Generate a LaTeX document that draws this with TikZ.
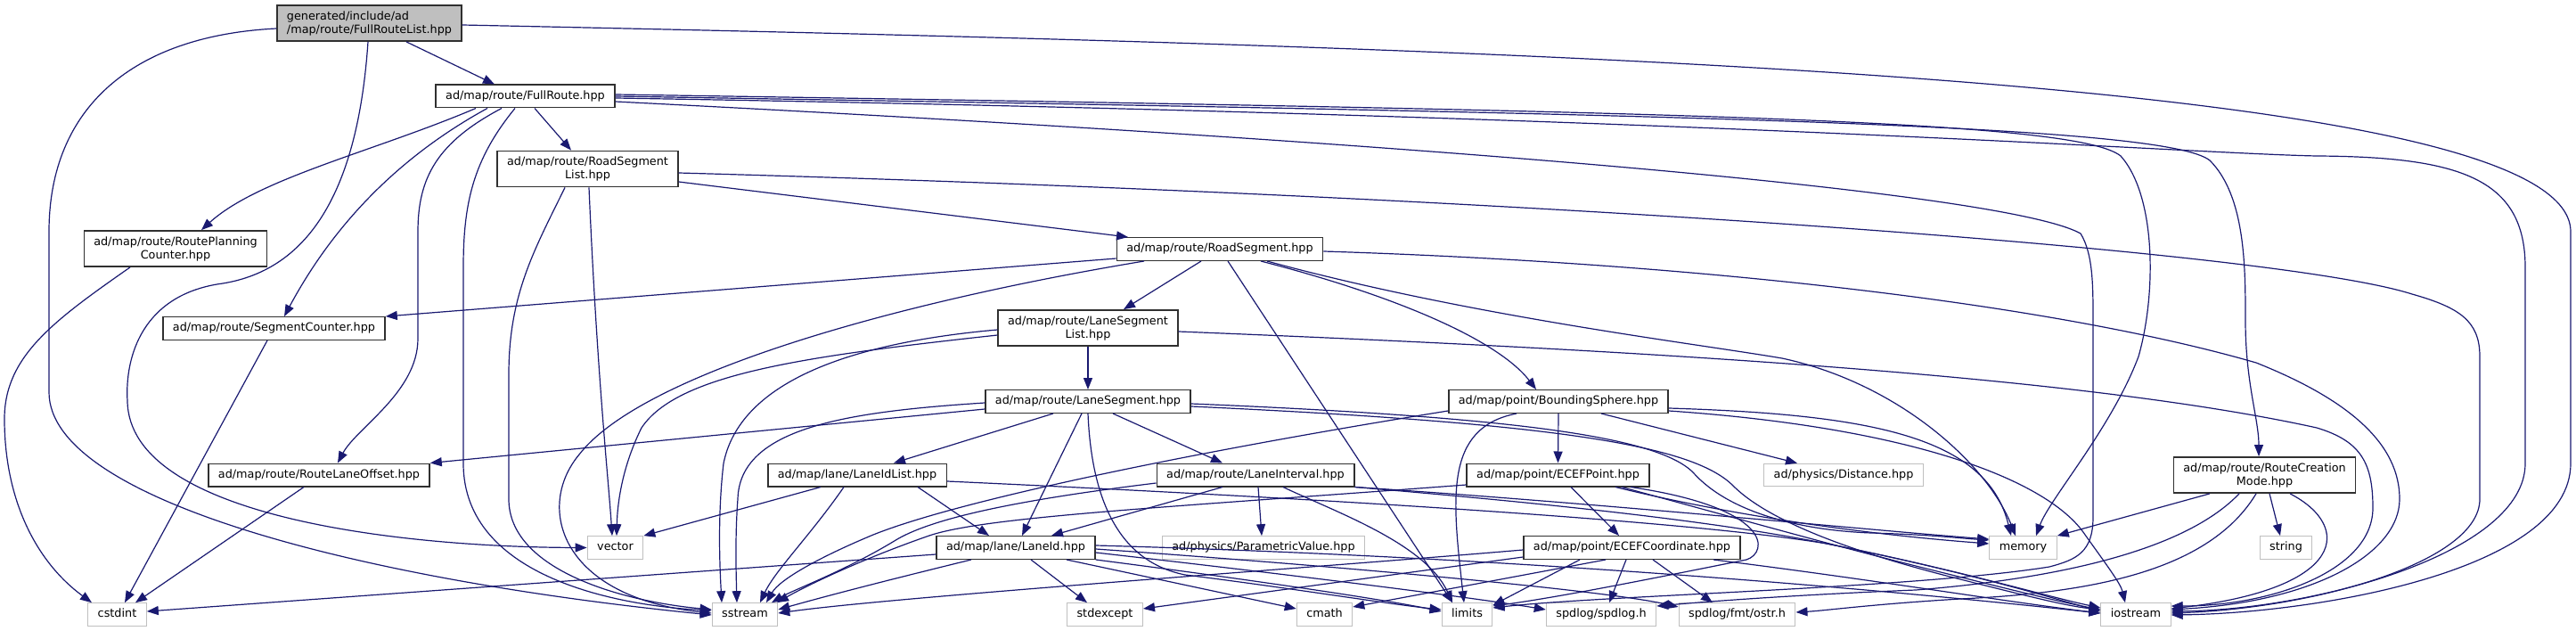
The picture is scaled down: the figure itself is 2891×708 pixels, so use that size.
\documentclass[tikz,border=0pt]{standalone}
\usepackage{fontspec}
\setmainfont{DejaVu Sans}
\usepackage{xcolor}
\usepackage{tikz}
\usetikzlibrary{arrows.meta}
\definecolor{doxEdge}{RGB}{25,25,112}
\definecolor{doxGrey}{RGB}{191,191,191}
\definecolor{doxFrame}{RGB}{48,48,48}

\begin{document}
\begin{tikzpicture}[x=1pt,y=-1pt,
  font=\fontsize{12.8}{15}\selectfont,
  hdr/.style={draw=doxFrame, line width=1.4pt, fill=white, inner xsep=11pt, inner ysep=6.4pt, text height=9.7pt, text depth=3.1pt},
  twoline/.style={draw=doxFrame, line width=1.4pt, fill=white, inner xsep=11pt, inner ysep=6.5pt, align=center},
  syshdr/.style={hdr, draw=doxGrey, line width=1.1pt},
  dep/.style={draw=doxEdge, line width=1.2pt, -{Triangle[length=13pt,width=10pt]}}]
\useasboundingbox (0,0) rectangle (2891,708);

\node[twoline, align=left, fill=doxGrey] (fullList) at (414.5,26) {generated/include/ad\\/map/route/FullRouteList.hpp};
\node[hdr] (fullRoute) at (589.5,108) {ad/map/route/FullRoute.hpp};
\node[twoline] (roadList) at (659.5,189.5) {ad/map/route/RoadSegment\\List.hpp};
\node[twoline] (planCnt) at (197,279) {ad/map/route/RoutePlanning\\Counter.hpp};
\node[hdr] (roadSeg) at (1369,279.5) {ad/map/route/RoadSegment.hpp};
\node[hdr] (segCnt) at (307.5,368.5) {ad/map/route/SegmentCounter.hpp};
\node[twoline] (laneList) at (1221,368) {ad/map/route/LaneSegment\\List.hpp};
\node[hdr] (laneSeg) at (1221,450.5) {ad/map/route/LaneSegment.hpp};
\node[hdr] (bSphere) at (1749,450.5) {ad/map/point/BoundingSphere.hpp};
\node[hdr] (laneOff) at (358,533) {ad/map/route/RouteLaneOffset.hpp};
\node[hdr] (idList) at (962,533) {ad/map/lane/LaneIdList.hpp};
\node[hdr] (laneInt) at (1409,533) {ad/map/route/LaneInterval.hpp};
\node[hdr] (ecefPt) at (1748.5,533) {ad/map/point/ECEFPoint.hpp};
\node[syshdr] (dist) at (2069,533) {ad/physics/Distance.hpp};
\node[twoline] (creMode) at (2541.5,533) {ad/map/route/RouteCreation\\Mode.hpp};
\node[syshdr] (vec) at (690.5,614.5) {vector};
\node[hdr] (laneId) at (1140,614.5) {ad/map/lane/LaneId.hpp};
\node[syshdr] (paramVal) at (1418,614.5) {ad/physics/ParametricValue.hpp};
\node[hdr] (ecefCo) at (1831.5,614.5) {ad/map/point/ECEFCoordinate.hpp};
\node[syshdr] (mem) at (2270.5,614.5) {memory};
\node[syshdr] (str) at (2565.5,614.5) {string};
\node[syshdr] (cstd) at (131.5,689.5) {cstdint};
\node[syshdr] (sstr) at (836,689.5) {sstream};
\node[syshdr] (stdex) at (1240,689.5) {stdexcept};
\node[syshdr] (cmath) at (1486.5,689.5) {cmath};
\node[syshdr] (lim) at (1646.5,689.5) {limits};
\node[syshdr] (spd) at (1797,689.5) {spdlog/spdlog.h};
\node[syshdr] (ostr) at (1949.5,689.5) {spdlog/fmt/ostr.h};
\node[syshdr] (ios) at (2397,689.5) {iostream};

% FullRouteList.hpp
\draw[dep] (456,0 |- fullList.south) -- (555,0 |- fullRoute.north);
\draw[dep] (fullList.west |- 0,32) .. controls (150,40) and (55,120) .. (55,260) -- (55,440) .. controls (55,560) and (400,650) .. (sstr.west |- 0,690);
\draw[dep] (413,0 |- fullList.south) .. controls (400,240) and (330,305) .. (250,318) .. controls (160,330) and (140,400) .. (143,450) .. controls (145,580) and (450,614) .. (vec.west);
\draw[dep] (fullList.east |- 0,28) .. controls (1800,55) and (2885,90) .. (2885,260) -- (2885,520) .. controls (2885,640) and (2600,688) .. (ios.east |- 0,690);

% FullRoute.hpp
\draw[dep] (534,0 |- fullRoute.south) .. controls (420,170) and (290,200) .. (226,0 |- planCnt.north);
\draw[dep] (547,0 |- fullRoute.south) .. controls (440,180) and (370,260) .. (319,0 |- segCnt.north);
\draw[dep] (563,0 |- fullRoute.south) .. controls (490,160) and (469,200) .. (469,260) -- (469,380) .. controls (469,440) and (400,480) .. (379,0 |- laneOff.north);
\draw[dep] (578,0 |- fullRoute.south) .. controls (530,180) and (520,230) .. (520,300) -- (520,520) .. controls (520,650) and (700,680) .. (sstr.west |- 0,685);
\draw[dep] (600,0 |- fullRoute.south) -- (641,0 |- roadList.north);
\draw[dep] (fullRoute.east |- 0,106) .. controls (1900,125) and (2330,135) .. (2380,175) .. controls (2420,220) and (2420,330) .. (2400,400) .. controls (2370,480) and (2300,560) .. (2285,0 |- mem.north);
\draw[dep] (fullRoute.east |- 0,108) .. controls (1900,128) and (2430,140) .. (2480,180) .. controls (2520,220) and (2520,300) .. (2520,360) .. controls (2520,430) and (2535,470) .. (2535,0 |- creMode.north);
\draw[dep] (fullRoute.east |- 0,110) .. controls (1900,130) and (2450,172) .. (2600,175) .. controls (2760,176) and (2834,200) .. (2834,300) -- (2834,520) .. controls (2834,620) and (2600,684) .. (ios.east |- 0,686);
\draw[dep] (fullRoute.east |- 0,114) .. controls (1600,160) and (2250,215) .. (2335,262) .. controls (2349,285) and (2349,320) .. (2349,360) -- (2349,580) .. controls (2349,620) and (2330,628) .. (2300,636) .. controls (2150,660) and (1800,668) .. (lim.east |- 0,682);

% RoadSegmentList.hpp
\draw[dep] (roadList.east |- 0,204) -- (1266,0 |- roadSeg.north);
\draw[dep] (roadList.east |- 0,194) .. controls (1700,220) and (2550,280) .. (2707,330) .. controls (2760,345) and (2783,360) .. (2783,400) -- (2783,560) .. controls (2783,630) and (2600,682) .. (ios.east |- 0,688);
\draw[dep] (634,0 |- roadList.south) .. controls (600,280) and (571,330) .. (571,420) -- (571,560) .. controls (571,640) and (700,675) .. (sstr.west |- 0,684);
\draw[dep] (661,0 |- roadList.south) .. controls (670,420) and (683,540) .. (687,0 |- vec.north);

\draw[dep] (146,0 |- planCnt.south) .. controls (60,360) and (5,400) .. (5,470) .. controls (5,560) and (40,630) .. (103,0 |- cstd.north);
\draw[dep] (300,0 |- segCnt.south) -- (140,0 |- cstd.north);
\draw[dep] (341,0 |- laneOff.south) -- (152,0 |- cstd.north);

% RoadSegment.hpp
\draw[dep] (roadSeg.west |- 0,290) -- (segCnt.north east);
\draw[dep] (1284,0 |- roadSeg.south) .. controls (1000,340) and (720,420) .. (650,510) .. controls (600,570) and (630,670) .. (sstr.west |- 0,688);
\draw[dep] (1348,0 |- roadSeg.south) -- (1261,0 |- laneList.north);
\draw[dep] (1378,0 |- roadSeg.south) -- (1630,0 |- lim.north);
\draw[dep] (1415,0 |- roadSeg.south) .. controls (1560,330) and (1680,380) .. (1724,0 |- bSphere.north);
\draw[dep] (1422,0 |- roadSeg.south) .. controls (1650,355) and (1900,385) .. (2000,402) .. controls (2130,430) and (2230,520) .. (2262,0 |- mem.north);
\draw[dep] (roadSeg.east |- 0,282) .. controls (1900,295) and (2300,340) .. (2532,407) .. controls (2640,450) and (2693,500) .. (2693,560) .. controls (2693,620) and (2600,675) .. (ios.east |- 0,684);

% LaneSegmentList.hpp
\draw[dep] (laneList.south) -- (laneSeg.north);
\draw[dep] (laneList.east |- 0,372) .. controls (1900,395) and (2350,425) .. (2600,480) .. controls (2650,495) and (2663,520) .. (2663,570) .. controls (2663,640) and (2550,680) .. (ios.east |- 0,680);
\draw[dep] (laneList.west |- 0,376) .. controls (900,400) and (760,420) .. (720,480) .. controls (700,520) and (693,560) .. (692,0 |- vec.north);
\draw[dep] (laneList.west |- 0,370) .. controls (950,385) and (830,430) .. (812,520) .. controls (805,580) and (808,640) .. (810,0 |- sstr.north);

% LaneSegment.hpp
\draw[dep] (laneSeg.west |- 0,459) -- (laneOff.north east);
\draw[dep] (laneSeg.west |- 0,452) .. controls (950,462) and (830,480) .. (828,560) .. controls (825,600) and (826,640) .. (827,0 |- sstr.north);
\draw[dep] (1182,0 |- laneSeg.south) -- (1003,0 |- idList.north);
\draw[dep] (1214,0 |- laneSeg.south) -- (1147,0 |- laneId.north);
\draw[dep] (1221,0 |- laneSeg.south) .. controls (1225,560) and (1255,630) .. (1330,645) .. controls (1450,660) and (1560,678) .. (lim.west |- 0,684);
\draw[dep] (1249,0 |- laneSeg.south) -- (1372,0 |- laneInt.north);
\draw[dep] (laneSeg.east |- 0,453) .. controls (1700,468) and (1860,490) .. (1900,530) .. controls (1940,575) and (2020,595) .. (2100,598) .. controls (2170,600) and (2200,604) .. (mem.west |- 0,606);
\draw[dep] (laneSeg.east |- 0,456) .. controls (1750,475) and (1900,500) .. (1945,545) .. controls (1990,590) and (2100,625) .. (2200,650) .. controls (2280,670) and (2320,680) .. (ios.west |- 0,684);

% BoundingSphere.hpp
\draw[dep] (bSphere.west |- 0,461) .. controls (1350,505) and (1080,560) .. (980,600) .. controls (920,625) and (875,650) .. (860,0 |- sstr.north);
\draw[dep] (1702,0 |- bSphere.south) .. controls (1620,480) and (1630,560) .. (1643,0 |- lim.north);
\draw[dep] (bSphere.south) -- (ecefPt.north);
\draw[dep] (1797,0 |- bSphere.south) -- (2017,0 |- dist.north);
\draw[dep] (bSphere.east |- 0,458) .. controls (2100,465) and (2230,490) .. (2257,0 |- mem.north);
\draw[dep] (bSphere.east |- 0,461) .. controls (2150,480) and (2300,540) .. (2340,600) .. controls (2365,635) and (2380,655) .. (2385,0 |- ios.north);

% LaneIdList.hpp
\draw[dep] (921,0 |- idList.south) -- (vec.north east);
\draw[dep] (947,0 |- idList.south) .. controls (910,600) and (870,640) .. (853,0 |- sstr.north);
\draw[dep] (1030,0 |- idList.south) -- (1110,0 |- laneId.north);
\draw[dep] (idList.east |- 0,540) .. controls (1500,560) and (1900,585) .. (2050,610) .. controls (2200,640) and (2300,670) .. (ios.west |- 0,686);

% LaneInterval.hpp
\draw[dep] (laneInt.west |- 0,542) .. controls (1150,560) and (1050,580) .. (1007,605) .. controls (950,640) and (890,662) .. (866,0 |- sstr.north);
\draw[dep] (1372,0 |- laneInt.south) -- (1180,0 |- laneId.north);
\draw[dep] (1412,0 |- laneInt.south) -- (1416,0 |- paramVal.north);
\draw[dep] (1440,0 |- laneInt.south) .. controls (1500,575) and (1600,610) .. (1630,0 |- lim.north);
\draw[dep] (laneInt.south east) .. controls (1800,565) and (2100,595) .. (mem.west |- 0,605);
\draw[dep] (laneInt.south east) .. controls (1800,570) and (1950,590) .. (2050,610) .. controls (2200,640) and (2300,670) .. (ios.west |- 0,682);

% ECEFPoint.hpp
\draw[dep] (1763,0 |- ecefPt.south) -- (1817,0 |- ecefCo.north);
\draw[dep] (ecefPt.west |- 0,544) .. controls (1300,570) and (1100,580) .. (1040,602) .. controls (960,630) and (900,660) .. (872,0 |- sstr.north);
\draw[dep] (1813,0 |- ecefPt.south) .. controls (1950,580) and (2100,600) .. (mem.west |- 0,610);
\draw[dep] (1820,0 |- ecefPt.south) .. controls (1980,590) and (2050,610) .. (2150,635) .. controls (2250,660) and (2310,675) .. (ios.west |- 0,684);
\draw[dep] (1830,0 |- ecefPt.south) .. controls (1990,570) and (1985,620) .. (1960,628) .. controls (1850,650) and (1750,670) .. (lim.east |- 0,680);

% ECEFCoordinate.hpp
\draw[dep] (ecefCo.west |- 0,617) .. controls (1500,635) and (1000,670) .. (sstr.east |- 0,688);
\draw[dep] (ecefCo.west |- 0,625) -- (stdex.east |- 0,683);
\draw[dep] (1773,0 |- ecefCo.south) -- (lim.east |- 0,679);
\draw[dep] (1802,0 |- ecefCo.south) -- (cmath.east |- 0,681);
\draw[dep] (1825,0 |- ecefCo.south) -- (1806,0 |- spd.north);
\draw[dep] (1855,0 |- ecefCo.south) -- (1922,0 |- ostr.north);
\draw[dep] (1923,0 |- ecefCo.south) .. controls (2100,650) and (2250,675) .. (ios.west |- 0,688);

% LaneId.hpp
\draw[dep] (laneId.west |- 0,622) -- (cstd.east |- 0,686);
\draw[dep] (1090,0 |- laneId.south) .. controls (1000,650) and (930,668) .. (sstr.east |- 0,684);
\draw[dep] (1157,0 |- laneId.south) -- (1220,0 |- stdex.north);
\draw[dep] (1197,0 |- laneId.south) -- (cmath.west |- 0,683);
\draw[dep] (laneId.south east) .. controls (1400,650) and (1550,672) .. (lim.west |- 0,686);
\draw[dep] (laneId.east |- 0,620) .. controls (1450,645) and (1650,670) .. (spd.west |- 0,684);
\draw[dep] (laneId.east |- 0,616) .. controls (1500,635) and (1800,662) .. (ostr.west |- 0,681);
\draw[dep] (laneId.east |- 0,612) .. controls (1700,625) and (2100,660) .. (ios.west |- 0,688);

% RouteCreationMode.hpp
\draw[dep] (2480,0 |- creMode.south) -- (mem.north east);
\draw[dep] (2547,0 |- creMode.south) -- (2559,0 |- str.north);
\draw[dep] (2570,0 |- creMode.south) .. controls (2640,590) and (2635,660) .. (ios.east |- 0,683);
\draw[dep] (2513,0 |- creMode.south) .. controls (2450,620) and (2300,650) .. (2150,662) .. controls (2050,666) and (1950,672) .. (spd.east |- 0,680);
\draw[dep] (2532,0 |- creMode.south) .. controls (2480,640) and (2350,665) .. (2200,672) .. controls (2100,678) and (2050,685) .. (ostr.east |- 0,687);
\end{tikzpicture}
\end{document}
